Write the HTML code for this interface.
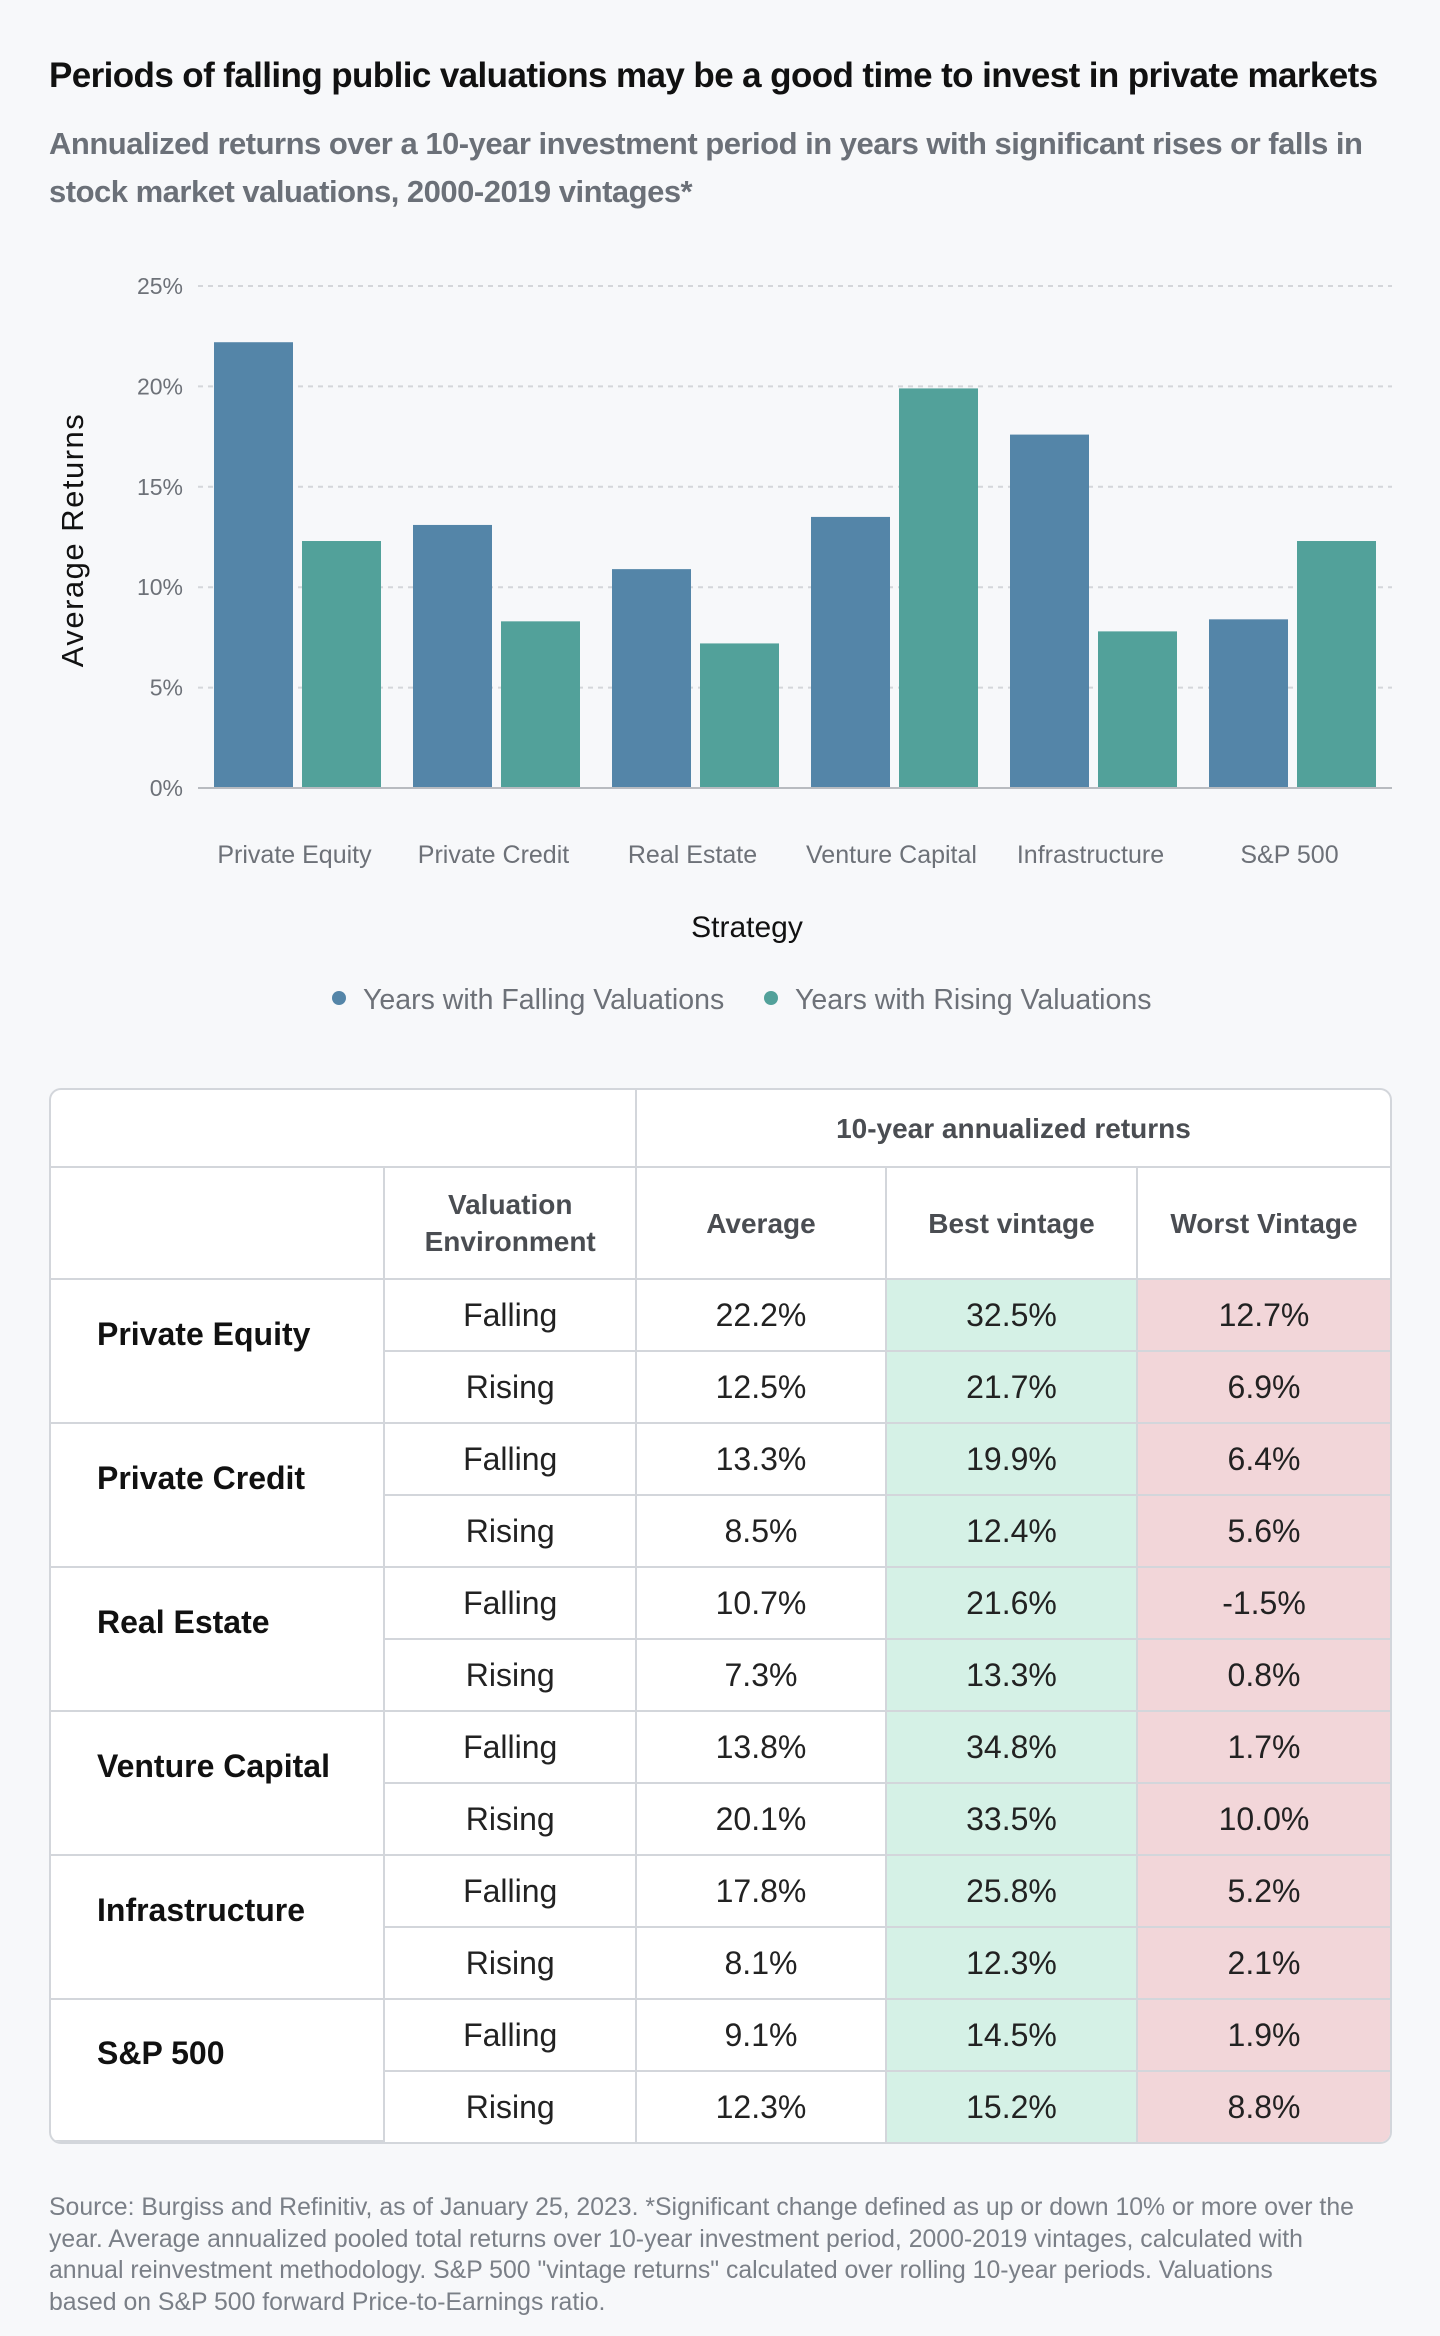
<!DOCTYPE html>
<html><head><meta charset="utf-8"><style>
body{margin:0;width:1440px;height:2336px;background:#f7f8fa;font-family:"Liberation Sans",sans-serif;position:relative;overflow:hidden}
.abs{position:absolute;white-space:nowrap}
#title{left:49px;top:56px;font-size:35px;font-weight:bold;color:#111;letter-spacing:-0.6px}
.sub{left:49px;font-size:31px;font-weight:bold;color:#6b7078;letter-spacing:-0.5px}
#foot{left:49px;top:2192px;font-size:24.8px;line-height:31.5px;color:#7a7f87}
table{position:absolute;left:49px;top:1088px;width:1343px;border-collapse:separate;border-spacing:0;background:#fff;border:2px solid #d3d6db;border-radius:12px;overflow:hidden}
td{border-right:2px solid #d3d6db;border-bottom:2px solid #d3d6db;text-align:center;font-size:32px;color:#222;padding:0;height:70px}
tr td:last-child{border-right:none}
tbody#tb tr:last-child td{border-bottom:none}
td.h{font-size:28px;font-weight:bold;color:#4a4d52;line-height:37px}
td.cat{text-align:left;padding-left:46px;padding-bottom:34px;font-weight:bold;font-size:32px;color:#111;border-bottom:2px solid #d3d6db}
tbody#tb tr:last-child td.cat{border-bottom:none}
td.g{background:#d5f1e6}td.r{background:#f2d6d9}
</style></head><body>
<div class="abs" id="title">Periods of falling public valuations may be a good time to invest in private markets</div>
<div class="abs sub" style="top:126px">Annualized returns over a 10-year investment period in years with significant rises or falls in</div>
<div class="abs sub" style="top:174px">stock market valuations, 2000-2019 vintages*</div>
<svg id="chart" class="abs" style="left:0;top:0" width="1440" height="1050"></svg>
<table>
<colgroup><col style="width:335px"><col style="width:252px"><col style="width:251px"><col style="width:252px"><col style="width:253px"></colgroup>
<thead>
<tr><td colspan="2" style="height:76px"></td><td colspan="3" class="h">10-year annualized returns</td></tr>
<tr><td style="height:110px"></td><td class="h">Valuation<br>Environment</td><td class="h">Average</td><td class="h">Best vintage</td><td class="h">Worst Vintage</td></tr>
</thead>
<tbody id="tb"></tbody>
</table>
<div class="abs" id="foot">Source: Burgiss and Refinitiv, as of January 25, 2023. *Significant change defined as up or down 10% or more over the<br>year. Average annualized pooled total returns over 10-year investment period, 2000-2019 vintages, calculated with<br>annual reinvestment methodology. S&amp;P 500 "vintage returns" calculated over rolling 10-year periods. Valuations<br>based on S&amp;P 500 forward Price-to-Earnings ratio.</div>
<script>
const categories=["Private Equity","Private Credit","Real Estate","Venture Capital","Infrastructure","S&P 500"];
const fallingValues=[22.2,13.1,10.9,13.5,17.6,8.4];
const risingValues=[12.3,8.3,7.2,19.9,7.8,12.3];
const yTicks=[0,5,10,15,20,25];
const tAvgF=["22.2%","13.3%","10.7%","13.8%","17.8%","9.1%"];
const tAvgR=["12.5%","8.5%","7.3%","20.1%","8.1%","12.3%"];
const tBestF=["32.5%","19.9%","21.6%","34.8%","25.8%","14.5%"];
const tBestR=["21.7%","12.4%","13.3%","33.5%","12.3%","15.2%"];
const tWorstF=["12.7%","6.4%","-1.5%","1.7%","5.2%","1.9%"];
const tWorstR=["6.9%","5.6%","0.8%","10.0%","2.1%","8.8%"];

const NS="http://www.w3.org/2000/svg";
const svg=document.getElementById('chart');
const X0=198,X1=1392,Y0=788,Y1=286,YMAX=25;
const y=v=>Y0-(v/YMAX)*(Y0-Y1);
const band=(X1-X0)/categories.length;
const bx=(i,k)=>X0+i*band+16+k*88;
function mk(tag,attrs,text){const e=document.createElementNS(NS,tag);for(const a in attrs)e.setAttribute(a,attrs[a]);if(text!=null)e.textContent=text;svg.appendChild(e);return e;}
yTicks.forEach(t=>{
  if(t>0){const g=mk('line',{x1:X0,x2:X1,y1:y(t),y2:y(t),stroke:'#d4d6da','stroke-width':2,'stroke-dasharray':'5,5'});
  
  }
  const l=mk('text',{x:183,y:y(t)+8,'text-anchor':'end','font-size':23,fill:'#6d7178'},t+'%');
  
  
});
categories.forEach((c,i)=>{
  const b1=mk('rect',{x:bx(i,0),y:y(fallingValues[i]),width:79,height:Y0-y(fallingValues[i]),fill:'#5485a8'});
  
  
  const b2=mk('rect',{x:bx(i,1),y:y(risingValues[i]),width:79,height:Y0-y(risingValues[i]),fill:'#52a19a'});
  
  
  const t=mk('text',{x:X0+i*band+band/2-3,y:863,'text-anchor':'middle','font-size':25,fill:'#6d7178'},c);
  
  
});
const ax=mk('line',{x1:X0,x2:X1,y1:Y0,y2:Y0,stroke:'#b8bbc0','stroke-width':2});


const xt=mk('text',{x:747,y:937,'text-anchor':'middle','font-size':30,fill:'#111'},'Strategy');


const yt=mk('text',{x:0,y:0,'text-anchor':'middle','font-size':31,'letter-spacing':1.5,fill:'#111',transform:'translate(83,540) rotate(-90)'},'Average Returns');


[[339,363,'#5485a8','Years with Falling Valuations'],[771,795,'#52a19a','Years with Rising Valuations']].forEach(d=>{
  const c=mk('circle',{cx:d[0],cy:998,r:7,fill:d[2]});
  
  
  const t=mk('text',{x:d[1],y:1009,'font-size':28.5,fill:'#6d7178'},d[3]);
  
  
});
const tb=document.getElementById('tb');
categories.forEach((c,i)=>{
  const r1=document.createElement('tr');
  
  
  r1.innerHTML=`<td rowspan="2" class="cat">${c.replace('&','&amp;')}</td><td>Falling</td><td>${tAvgF[i]}</td><td class="g">${tBestF[i]}</td><td class="r">${tWorstF[i]}</td>`;
  const r2=document.createElement('tr');
  
  
  r2.innerHTML=`<td>Rising</td><td>${tAvgR[i]}</td><td class="g">${tBestR[i]}</td><td class="r">${tWorstR[i]}</td>`;
  tb.appendChild(r1);tb.appendChild(r2);
});
</script>
</body></html>
